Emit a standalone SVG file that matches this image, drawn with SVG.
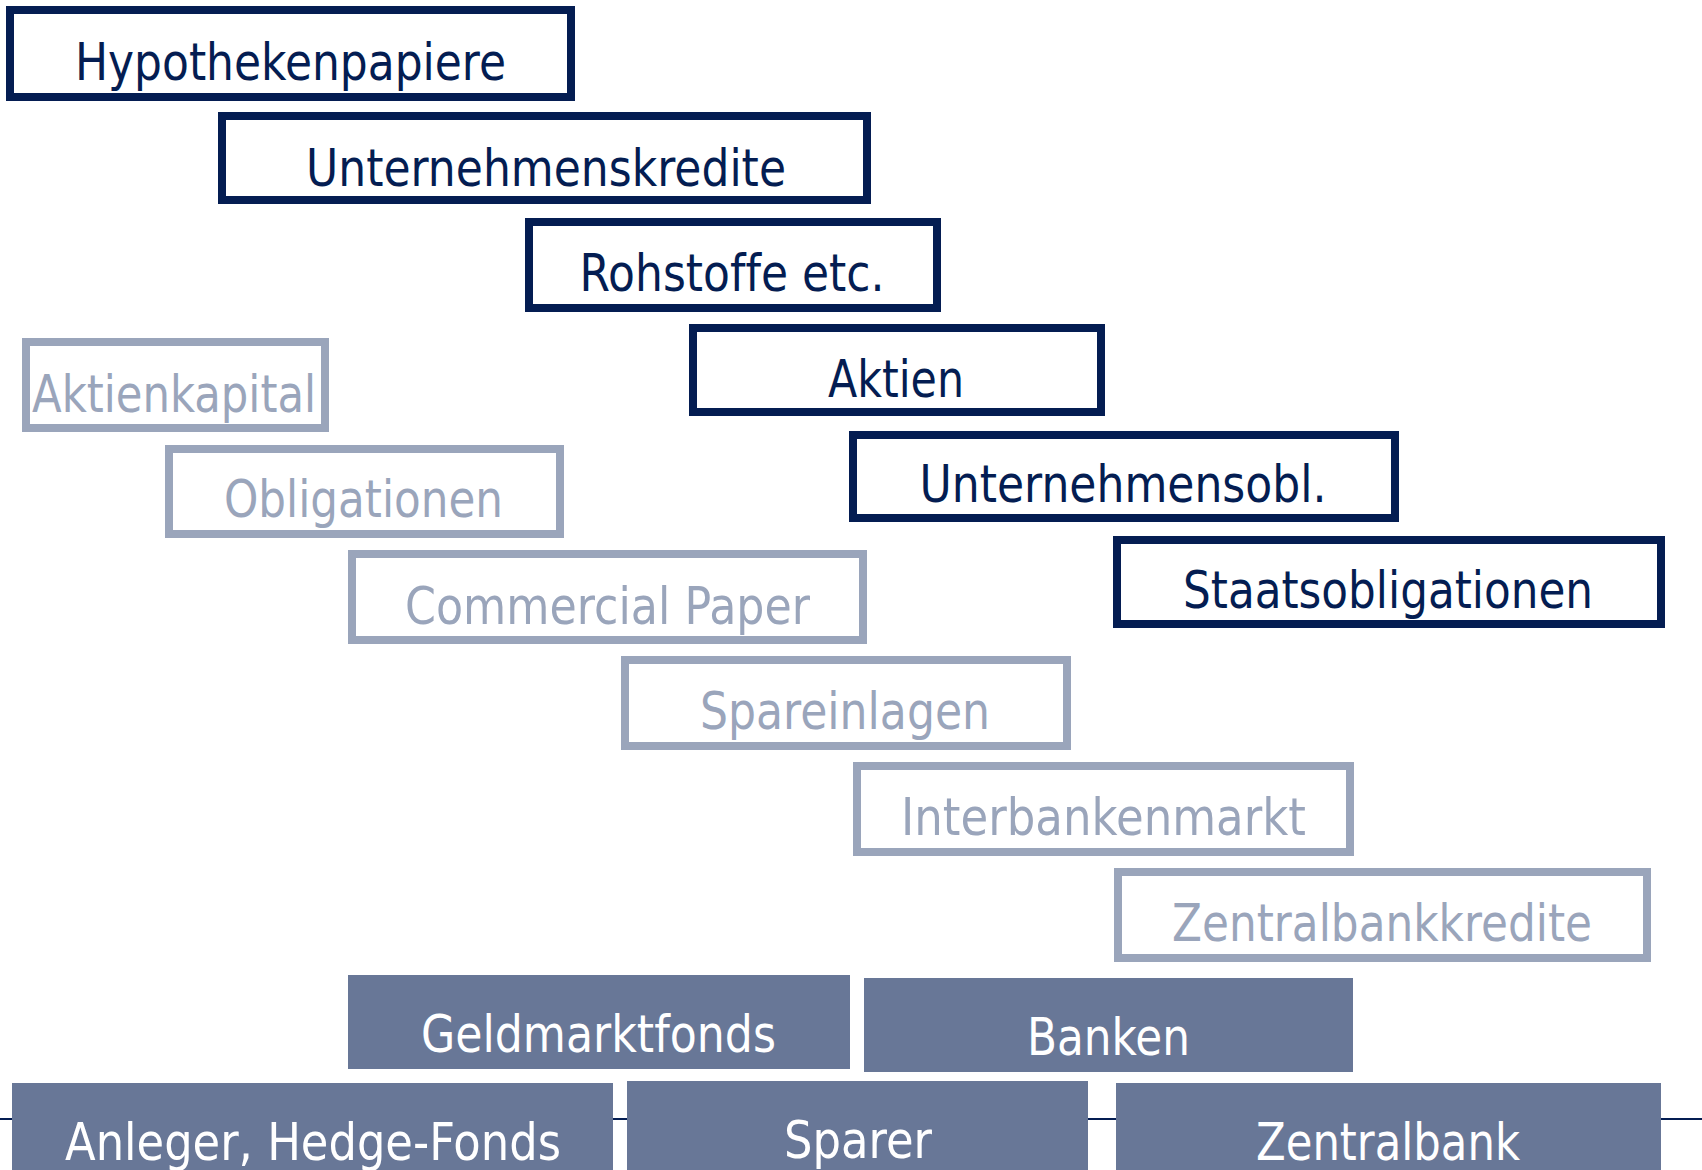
<svg xmlns="http://www.w3.org/2000/svg" width="1702" height="1170" viewBox="0 0 1702 1170">
<style>
  text { font-family: "DejaVu Sans", Verdana, sans-serif; font-size: 52px; text-anchor: middle; font-variant-ligatures: none; }
  .dark rect { fill: #ffffff; stroke: #041d52; stroke-width: 8; }
  .dark text { fill: #041d52; }
  .light rect { fill: #ffffff; stroke: #9aa5bb; stroke-width: 8; }
  .light text { fill: #9aa5bb; }
  .solid rect { fill: #687797; stroke: none; }
  .solid text { fill: #ffffff; }
</style>
<rect x="0" y="0" width="1702" height="1170" fill="#ffffff"/>
<g id="rule">
  <line x1="0" y1="1119" x2="1702" y2="1119" stroke="#041d52" stroke-width="2"/>
</g>
<g id="connectors"></g>
<g id="n-hypothekenpapiere" class="dark"><rect x="10" y="10" width="561" height="87"/><text x="290.5" y="80" textLength="431" lengthAdjust="spacingAndGlyphs">Hypothekenpapiere</text></g>
<g id="n-unternehmenskredite" class="dark"><rect x="222" y="116" width="645" height="84"/><text x="546" y="186" textLength="480" lengthAdjust="spacingAndGlyphs">Unternehmenskredite</text></g>
<g id="n-rohstoffe" class="dark"><rect x="529" y="222" width="408" height="86"/><text x="732" y="291" textLength="305" lengthAdjust="spacingAndGlyphs">Rohstoffe etc.</text></g>
<g id="n-aktien" class="dark"><rect x="693" y="328" width="408" height="84"/><text x="896" y="397" textLength="136" lengthAdjust="spacingAndGlyphs">Aktien</text></g>
<g id="n-unternehmensobl" class="dark"><rect x="853" y="435" width="542" height="83"/><text x="1123" y="502" textLength="407" lengthAdjust="spacingAndGlyphs">Unternehmensobl.</text></g>
<g id="n-staatsobligationen" class="dark"><rect x="1117" y="540" width="544" height="84"/><text x="1388" y="608" textLength="410" lengthAdjust="spacingAndGlyphs">Staatsobligationen</text></g>
<g id="n-aktienkapital" class="light"><rect x="26" y="342" width="299" height="86"/><text x="174" y="412" textLength="284" lengthAdjust="spacingAndGlyphs">Aktienkapital</text></g>
<g id="n-obligationen" class="light"><rect x="169" y="449" width="391" height="85"/><text x="363.5" y="517" textLength="279" lengthAdjust="spacingAndGlyphs">Obligationen</text></g>
<g id="n-commercial-paper" class="light"><rect x="352" y="554" width="511" height="86"/><text x="607.5" y="624" textLength="405" lengthAdjust="spacingAndGlyphs">Commercial Paper</text></g>
<g id="n-spareinlagen" class="light"><rect x="625" y="660" width="442" height="86"/><text x="845" y="729" textLength="290" lengthAdjust="spacingAndGlyphs">Spareinlagen</text></g>
<g id="n-interbankenmarkt" class="light"><rect x="857" y="766" width="493" height="86"/><text x="1103.5" y="835" textLength="405" lengthAdjust="spacingAndGlyphs">Interbankenmarkt</text></g>
<g id="n-zentralbankkredite" class="light"><rect x="1118" y="872" width="529" height="86"/><text x="1382" y="941" textLength="420" lengthAdjust="spacingAndGlyphs">Zentralbankkredite</text></g>
<g id="n-geldmarktfonds" class="solid"><rect x="348" y="975" width="502" height="94"/><text x="598.5" y="1052" textLength="355" lengthAdjust="spacingAndGlyphs">Geldmarktfonds</text></g>
<g id="n-banken" class="solid"><rect x="864" y="978" width="489" height="94"/><text x="1108.5" y="1055" textLength="163" lengthAdjust="spacingAndGlyphs">Banken</text></g>
<g id="n-anleger" class="solid"><rect x="12" y="1083" width="601" height="100"/><text x="313" y="1160" textLength="496" lengthAdjust="spacingAndGlyphs">Anleger, Hedge-Fonds</text></g>
<g id="n-sparer" class="solid"><rect x="627" y="1081" width="461" height="100"/><text x="858" y="1158" textLength="148" lengthAdjust="spacingAndGlyphs">Sparer</text></g>
<g id="n-zentralbank" class="solid"><rect x="1116" y="1083" width="545" height="100"/><text x="1388" y="1160" textLength="264" lengthAdjust="spacingAndGlyphs">Zentralbank</text></g>
</svg>
